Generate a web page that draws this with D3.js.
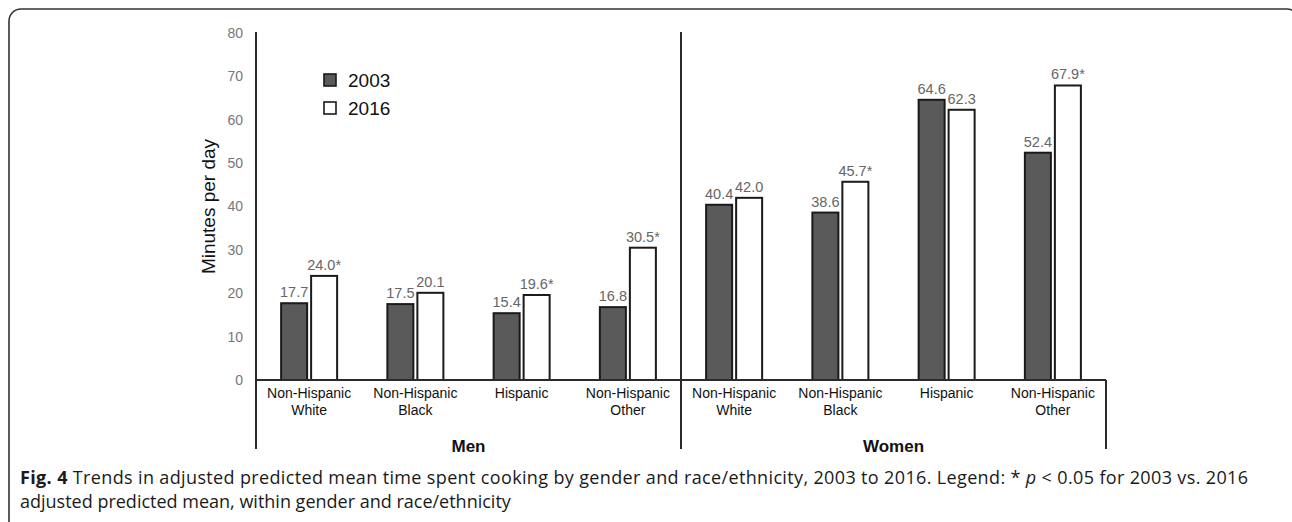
<!DOCTYPE html>
<html lang="en">
<head>
<meta charset="UTF-8" />
<title>Time spent cooking</title>
<script src="https://cdn.jsdelivr.net/npm/d3@7"></script>
<style>
  body { margin: 0; background: #fff; }
  svg { display: block; }
</style>
</head>
<body>
<svg width="1292" height="522" id="svg"></svg>
<script>
const genders = ["Men", "Women"]
const groups = ["Non-Hispanic White", "Non-Hispanic Black", "Hispanic", "Non-Hispanic Other"]
const years = ["2003", "2016"]
const values2003 = [17.7, 17.5, 15.4, 16.8, 40.4, 38.6, 64.6, 52.4]
const values2016 = [24.0, 20.1, 19.6, 30.5, 42.0, 45.7, 62.3, 67.9]
const significant2016 = [true, false, true, true, false, true, false, true]
const yTicks = [0, 10, 20, 30, 40, 50, 60, 70, 80]

const svg = d3.select("#svg")
const font = "Liberation Sans, Arial, sans-serif"
const bottom = 449

// outer rounded frame
svg.append("rect")
  .attr("x", 9).attr("y", 9)
  .attr("width", 1290).attr("height", 540)
  .attr("rx", 12)
  .attr("fill", "none")
  .attr("stroke", "#333")
  .attr("stroke-width", 1.6)

const cats = []
genders.forEach(g => groups.forEach(r => cats.push(g + "|" + r)))

const rows = cats.map((c, i) => ({
  key: c,
  gender: c.split("|")[0],
  group: c.split("|")[1],
  vals: [
    { year: "2003", v: values2003[i], sig: false },
    { year: "2016", v: values2016[i], sig: significant2016[i] }
  ]
}))

const x0 = d3.scaleBand().domain(cats).range([256, 1106])
const bw = x0.bandwidth()
const x1 = d3.scaleBand().domain(years).range([bw / 2 - 28, bw / 2 + 28]).paddingInner(4 / 30)
const y = d3.scaleLinear().domain([0, 80]).range([380, 33])
const fill = d3.scaleOrdinal(years, ["#5a5a5a", "#ffffff"])

// y axis labels
const yAxis = svg.append("g")
  .attr("transform", "translate(256,0)")
  .call(d3.axisLeft(y).tickValues(yTicks).tickSize(0).tickPadding(13))
yAxis.select(".domain").remove()
yAxis.selectAll("text")
  .attr("font-family", font)
  .attr("font-size", 14)
  .attr("fill", "#777")

svg.append("text")
  .attr("transform", `translate(215,${y(40)}) rotate(-90)`)
  .attr("text-anchor", "middle")
  .attr("font-family", font)
  .attr("font-size", 19)
  .attr("fill", "#111")
  .text("Minutes per day")

// bars
const cat = svg.append("g").selectAll("g")
  .data(rows)
  .join("g")
  .attr("transform", d => `translate(${x0(d.key)},0)`)

cat.selectAll("rect")
  .data(d => d.vals)
  .join("rect")
  .attr("x", d => x1(d.year))
  .attr("y", d => y(d.v))
  .attr("width", x1.bandwidth())
  .attr("height", d => y(0) - y(d.v))
  .attr("fill", d => fill(d.year))
  .attr("stroke", "#1a1a1a")
  .attr("stroke-width", 2)

cat.selectAll("text.val")
  .data(d => d.vals)
  .join("text")
  .attr("class", "val")
  .attr("x", d => x1(d.year) + x1.bandwidth() / 2)
  .attr("y", d => y(d.v) - 6)
  .attr("text-anchor", "middle")
  .attr("font-family", font)
  .attr("font-size", 14.5)
  .attr("fill", "#666")
  .text(d => d.v.toFixed(1) + (d.sig ? "*" : ""))

// category labels
cat.each(function (d) {
  const words = d.group.split(" ")
  const t = d3.select(this).append("text")
    .attr("text-anchor", "middle")
    .attr("font-family", font)
    .attr("font-size", 14)
    .attr("fill", "#111")
  words.forEach((w, i) => {
    t.append("tspan")
      .attr("x", bw / 2)
      .attr("y", 398 + i * 17)
      .text(w)
  })
})

// axis frame lines
const line = (xa, ya, xb, yb) => svg.append("line")
  .attr("x1", xa).attr("y1", ya).attr("x2", xb).attr("y2", yb)
  .attr("stroke", "#2a2a2a").attr("stroke-width", 2)

line(256, y(0), 1106, y(0))
line(256, 32, 256, bottom)
line(681, 32, 681, bottom)
line(1106, y(0), 1106, bottom)

// gender labels
svg.append("g").selectAll("text")
  .data(genders)
  .join("text")
  .attr("x", g => x0(g + "|" + groups[0]) + bw * 2)
  .attr("y", 452)
  .attr("text-anchor", "middle")
  .attr("font-family", font)
  .attr("font-size", 17)
  .attr("font-weight", "bold")
  .attr("fill", "#111")
  .text(g => g)

// legend
const leg = svg.append("g").attr("transform", "translate(324,74)")
  .selectAll("g").data(years).join("g")
  .attr("transform", (d, i) => `translate(0,${i * 28})`)
leg.append("rect")
  .attr("width", 12).attr("height", 12)
  .attr("fill", d => fill(d))
  .attr("stroke", "#1a1a1a").attr("stroke-width", 1.6)
leg.append("text")
  .attr("x", 24).attr("y", 13)
  .attr("font-family", font)
  .attr("font-size", 19)
  .attr("fill", "#111")
  .text(d => d)

// caption
const cap1 = svg.append("text")
  .attr("x", 20).attr("y", 484)
  .attr("font-family", "Open Sans, sans-serif")
  .attr("font-size", 18)
  .attr("fill", "#1a1a1a")
  .attr("textLength", 1228)
  .attr("lengthAdjust", "spacing")
cap1.append("tspan").attr("font-weight", "bold").text("Fig. 4")
cap1.append("tspan").text(" Trends in adjusted predicted mean time spent cooking by gender and race/ethnicity, 2003 to 2016. Legend: * ")
cap1.append("tspan").attr("font-style", "italic").text("p")
cap1.append("tspan").text(" < 0.05 for 2003 vs. 2016")

svg.append("text")
  .attr("x", 20).attr("y", 508)
  .attr("font-family", "Open Sans, sans-serif")
  .attr("font-size", 18)
  .attr("fill", "#1a1a1a")
  .text("adjusted predicted mean, within gender and race/ethnicity")
</script>
</body>
</html>
